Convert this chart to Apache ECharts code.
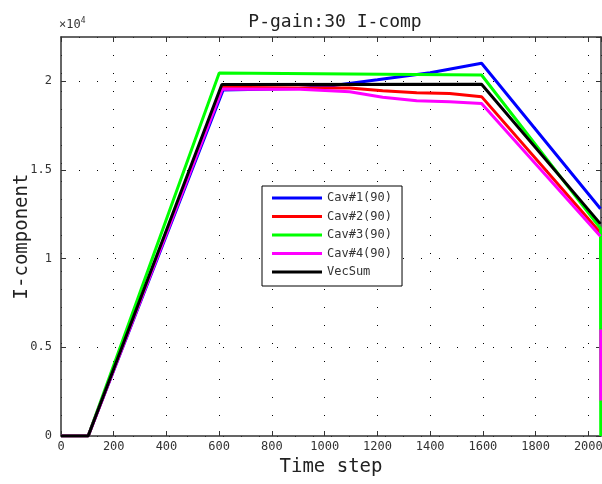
<!DOCTYPE html>
<html>
<head>
<meta charset="utf-8">
<script src="https://cdn.jsdelivr.net/npm/echarts@6/dist/echarts.min.js"></script>
<style>
html,body{margin:0;padding:0;background:#fff;}
#chart{width:602px;height:484px;}
</style>
</head>
<body>
<div id="chart"></div>
<script>
// ---- data ----
const seriesNames = ['Cav#1(90)', 'Cav#2(90)', 'Cav#3(90)', 'Cav#4(90)', 'VecSum'];
const cav1T = [0, 103, 615, 900, 1020, 1200, 1400, 1595, 2046];
const cav1V = [0, 0, 19500, 19580, 19720, 20070, 20470, 21000, 12800];
const cav2T = [0, 103, 612, 906, 1095, 1220, 1349, 1474, 1595, 2046];
const cav2V = [0, 0, 19650, 19600, 19600, 19450, 19340, 19300, 19120, 11450];
const cav3T = [0, 103, 600, 1595, 2046, 2047];
const cav3V = [0, 0, 20450, 20340, 11700, 0];
const cav4T = [0, 103, 612, 906, 1095, 1220, 1349, 1474, 1595, 2046, null, 2047, 2047];
const cav4V = [0, 0, 19550, 19530, 19400, 19080, 18890, 18830, 18740, 11250, null, 6000, 2000];
const vecT = [0, 103, 610, 1595, 2046];
const vecV = [0, 0, 19800, 19820, 11950];
const xTicks = [0, 200, 400, 600, 800, 1000, 1200, 1400, 1600, 1800, 2000];
const yTickLabels = ['0', '0.5', '1', '1.5', '2'];
const colors = ['#0000ff', '#ff0000', '#00ff00', '#ff00ff', '#000000'];

function pairs(t, v) {
  return t.map((x, i) => (x === null ? [null, null] : [x, v[i]]));
}
const allT = [cav1T, cav2T, cav3T, cav4T, vecT];
const allV = [cav1V, cav2V, cav3V, cav4V, vecV];

const chart = echarts.init(document.getElementById('chart'), null, {renderer: 'canvas'});
const FONT = 'DejaVu Sans Mono';
const dotted = {color: '#000', width: 1, type: [1, 17]};

const option = {
  backgroundColor: '#fff',
  animation: false,
  title: {
    text: 'P-gain:30 I-comp',
    left: 330, textAlign: 'center', top: 8,
    textStyle: {fontFamily: FONT, fontSize: 18, fontWeight: 'normal', color: '#222'}
  },
  graphic: [{
    type: 'text', left: 59, top: 17,
    style: {
      text: '{a|×10}{b|4}',
      rich: {
        a: {fontFamily: FONT, fontSize: 12, fill: '#333'},
        b: {fontFamily: FONT, fontSize: 8, fill: '#333', verticalAlign: 'top', padding: [0, 0, 7, 0]}
      }
    }
  }],
  legend: {
    orient: 'vertical',
    left: 262, top: 186,
    data: seriesNames,
    icon: 'rect',
    itemWidth: 50, itemHeight: 3,
    itemGap: 4.5,
    padding: [5, 10, 7, 10],
    borderColor: '#000', borderWidth: 1,
    backgroundColor: '#fff',
    textStyle: {fontFamily: FONT, fontSize: 12, color: '#333', lineHeight: 14}
  },
  grid: {left: 61, right: 1, top: 37, bottom: 48, containLabel: false, outerBoundsMode: 'none'},
  xAxis: [{
    type: 'value', min: 0, max: 2048, interval: 200,
    name: 'Time step', nameLocation: 'middle', nameGap: 19,
    nameTextStyle: {fontFamily: FONT, fontSize: 19, color: '#222'},
    axisLine: {show: true, onZero: false, lineStyle: {color: '#333', width: 1.5}},
    axisTick: {show: true, inside: true, length: 5, lineStyle: {color: '#333'}},
    axisLabel: {
      fontFamily: FONT, fontSize: 12, color: '#333', margin: 5,
      showMaxLabel: false,
      formatter: v => (xTicks.indexOf(v) >= 0 ? String(v) : '')
    },
    splitLine: {show: true, lineStyle: dotted}
  }, {
    type: 'value', min: 0, max: 2048, interval: 200, position: 'top',
    axisLine: {show: true, onZero: false, lineStyle: {color: '#333', width: 1.5}},
    axisTick: {show: true, inside: true, length: 5, lineStyle: {color: '#333'}},
    axisLabel: {show: false}, splitLine: {show: false}
  }],
  yAxis: [{
    type: 'value', min: 0, max: 22480, interval: 5000,
    name: 'I-component', nameLocation: 'middle', nameGap: 29,
    nameMoveOverlap: false,
    nameTextStyle: {fontFamily: FONT, fontSize: 19, color: '#222'},
    axisLine: {show: true, onZero: false, lineStyle: {color: '#333', width: 1.5}},
    axisTick: {show: true, inside: true, length: 5, lineStyle: {color: '#333'}},
    axisLabel: {
      fontFamily: FONT, fontSize: 12, color: '#333', margin: 9,
      showMaxLabel: false,
      formatter: v => (v % 5000 === 0 && v / 5000 < yTickLabels.length ? yTickLabels[v / 5000] : '')
    },
    splitLine: {show: true, lineStyle: dotted}
  }, {
    type: 'value', min: 0, max: 22480, interval: 5000, position: 'right',
    axisLine: {show: true, onZero: false, lineStyle: {color: '#333', width: 1.5}},
    axisTick: {show: true, inside: true, length: 5, lineStyle: {color: '#333'}},
    axisLabel: {show: false}, splitLine: {show: false}
  }],
  series: seriesNames.map((name, i) => ({
    name: name,
    type: 'line',
    data: pairs(allT[i], allV[i]),
    showSymbol: false, symbol: 'none',
    connectNulls: false,
    lineStyle: {color: colors[i], width: 3},
    itemStyle: {color: colors[i]},
    z: 2 + i
  }))
};
chart.setOption(option);
</script>
</body>
</html>
